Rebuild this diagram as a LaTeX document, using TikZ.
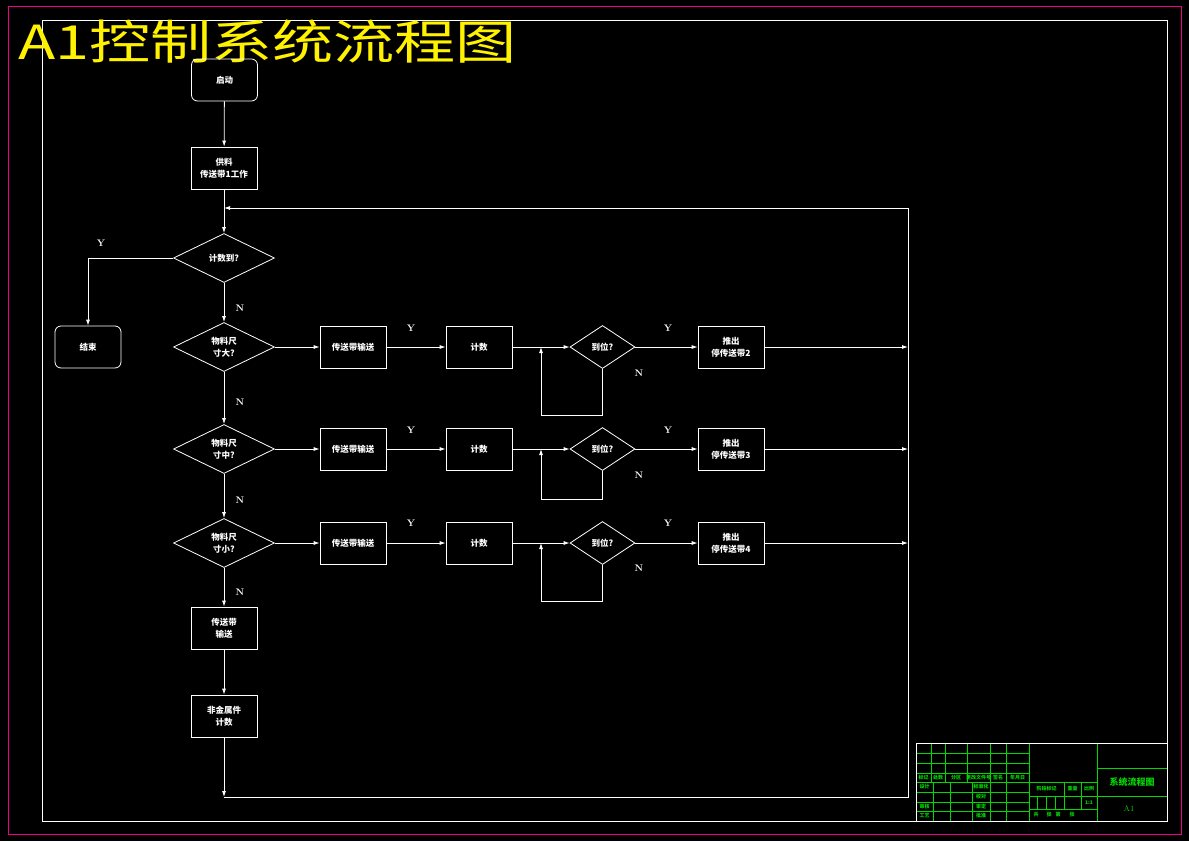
\documentclass[tikz,border=0pt]{standalone}
\usepackage{fontspec}
\newfontfamily\cjk{Noto Sans CJK SC}
\usetikzlibrary{shapes.geometric, positioning, arrows.meta}

\tikzset{
    box/.style={draw=white, line width=0.8pt, minimum width=66pt, minimum height=42pt,
        inner sep=0pt, text=white, align=center, font=\cjk\bfseries\fontsize{8.5}{12}\selectfont},
    rbox/.style={box, rounded corners=6pt},
    dec/.style={box, diamond, minimum width=101pt, minimum height=49pt},
    chk/.style={box, diamond, minimum width=65pt, minimum height=43pt},
    flow/.style={draw=white, line width=0.8pt, -{Latex[length=6pt,width=4pt]}},
    wire/.style={draw=white, line width=0.8pt},
    yn/.style={text=white, inner sep=0pt, font=\bfseries\fontsize{9.5}{9.5}\selectfont},
    tb/.style={draw=green!85!black, line width=0.6pt},
    tbt/.style={text=green!85!black, inner sep=0pt, font=\cjk\bfseries\fontsize{5}{5}\selectfont}
}

\begin{document}
\begin{tikzpicture}[x=1pt,y=-1pt]

    % Фон и рамки
    \useasboundingbox (0,0) rectangle (1189,841);
    \fill[black] (0,0) rectangle (1189,841);
    \draw[magenta, line width=1pt] (8,6) rectangle (1181,834);
    \draw[white, line width=0.8pt] (42,20) rectangle (1167,821);

    % Заголовок
    \node[text=yellow, anchor=west, inner sep=0pt, font=\cjk\fontsize{47}{47}\selectfont]
        (title) at (18,42) {\scalebox{1.30}[1]{A1控制系统流程图}};

    % Главная колонка
    \node[rbox] (start) at (224.5,80) {启动};
    \node[box] (feed) at (224,168) {供料\\传送带1工作};
    \node[dec] (cnt) at (224,258) {计数到?};
    \node[rbox] (stop) at (88,347) {结束};
    \node[dec] (big) at (224,347) {物料尺\\寸大?};
    \node[dec] (mid) at (224,449) {物料尺\\寸中?};
    \node[dec] (small) at (224,543) {物料尺\\寸小?};
    \node[box] (belt) at (224,628) {传送带\\输送};
    \node[box] (nonmet) at (224,716) {非金属件\\计数};

    % Ряды
    \node[box] (beltA) at (353,347) {传送带输送};
    \node[box] (beltB) at (353,449) {传送带输送};
    \node[box] (beltC) at (353,543) {传送带输送};
    \node[box] (cntA) at (479,347) {计数};
    \node[box] (cntB) at (479,449) {计数};
    \node[box] (cntC) at (479,543) {计数};
    \node[chk] (posA) at (602.5,347) {到位?};
    \node[chk] (posB) at (602.5,449) {到位?};
    \node[chk] (posC) at (602.5,543) {到位?};
    \node[box] (pushA) at (731,347) {推出\\停传送带2};
    \node[box] (pushB) at (731,449) {推出\\停传送带3};
    \node[box] (pushC) at (731,543) {推出\\停传送带4};

    % Точки на линиях
    \coordinate (ret) at (224,208);
    \coordinate (loopA) at (541,347);
    \coordinate (loopB) at (541,449);
    \coordinate (loopC) at (541,543);
    \coordinate (rA) at (908,347);
    \coordinate (rB) at (908,449);
    \coordinate (rC) at (908,543);
    \coordinate (bl) at (224,797);
    \coordinate (br) at (908,797);
    \coordinate (tr) at (908,208);

    % Стрелки
    \draw[flow] (start) -- (feed);
    \draw[flow] (feed) -- (cnt);
    \draw[flow] (cnt.west) -| (stop.north);
    \draw[flow] (cnt) -- (big);
    \draw[flow] (big) -- (mid);
    \draw[flow] (mid) -- (small);
    \draw[flow] (small) -- (belt);
    \draw[flow] (belt) -- (nonmet);
    \draw[flow] (nonmet) -- (bl);
    \draw[flow] (bl) -- (br) -- (tr) -- (ret);

    \foreach \r/\d in {A/big, B/mid, C/small} {
        \draw[flow] (\d.east) -- (belt\r.west);
        \draw[flow] (belt\r) -- (cnt\r);
        \draw[flow] (cnt\r) -- (pos\r);
        \draw[flow] (pos\r) -- (push\r);
        \draw[flow] (push\r) -- (r\r);
    }
    \draw[flow] (posA.south) -- ++(0,46) -| (loopA);
    \draw[flow] (posB.south) -- ++(0,28) -| (loopB);
    \draw[flow] (posC.south) -- ++(0,36) -| (loopC);
    \draw[wire] (tr) -- (br);

    % Подписи Y / N
    \node[yn] (y0) at (101,243) {Y};
    \node[yn] (n0) at (240,308) {N};
    \foreach \r/\y in {A/328, B/430, C/523} {
        \node[yn] (ya\r) at (411,\y) {Y};
        \node[yn] (yb\r) at (668,\y) {Y};
    }
    \foreach \r/\y in {A/373, B/475, C/568} {
        \node[yn] (nb\r) at (639,\y) {N};
    }
    \node[yn] (n1) at (240,402) {N};
    \node[yn] (n2) at (240,500) {N};
    \node[yn] (n3) at (240,592) {N};

    % Штамп
    \foreach \y in {753,763,773,782,792,802,811} \draw[tb] (916,\y) -- (1029,\y);
    \foreach \x in {931,945,967,990,1006} \draw[tb] (\x,743) -- (\x,782);
    \foreach \x in {933,950,972,990,1006} \draw[tb] (\x,782) -- (\x,821);
    \draw[tb] (1029,743) -- (1029,821);
    \draw[tb] (1097,743) -- (1097,821);
    \foreach \y in {782,796,809} \draw[tb] (1029,\y) -- (1097,\y);
    \foreach \x in {1064,1081} \draw[tb] (\x,782) -- (\x,809);
    \foreach \x in {1037,1046,1055} \draw[tb] (\x,796) -- (\x,809);
    \draw[tb] (1097,768) -- (1167,768);
    \draw[tb] (1097,796) -- (1167,796);
    \draw[white, line width=0.8pt] (916,821) -- (916,743) -- (1167,743);

    \foreach \t/\x [count=\i] in {标记/923.5, 处数/938, 分区/956, 更改文件号/978.5, 签名/998, 年月日/1017.5}
        \node[tbt] (h\i) at (\x,777.5) {\t};
    \foreach \t/\y [count=\i] in {设计/787, 审核/806.5, 工艺/816}
        \node[tbt] (l\i) at (924.5,\y) {\t};
    \foreach \t/\y [count=\i] in {标准化/787, 校对/797, 审定/806.5, 批准/816}
        \node[tbt] (m\i) at (981,\y) {\t};
    \node[tbt] (stage) at (1046.5,789) {阶段标记};
    \node[tbt] (mass) at (1072.5,789) {重量};
    \node[tbt] (ratio) at (1089,789) {比例};
    \node[tbt] (ratioval) at (1089,802.5) {1:1};
    \foreach \t/\x [count=\i] in {共/1036, 张/1049, 第/1058, 张/1072}
        \node[tbt] (s\i) at (\x,815) {\t};
    \node[tbt, font=\cjk\bfseries\fontsize{9}{9}\selectfont] (dwg) at (1132,782) {系统流程图};
    \node[tbt, font=\fontsize{8}{8}\selectfont] (fmt) at (1129,809) {A1};

\end{tikzpicture}
\end{document}
